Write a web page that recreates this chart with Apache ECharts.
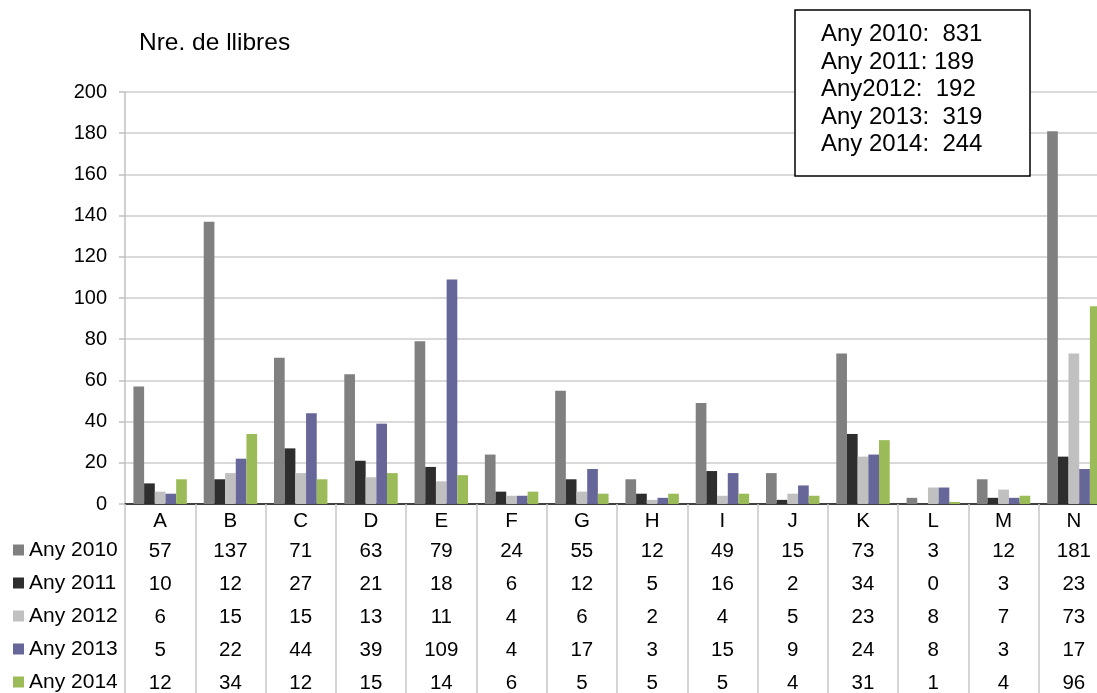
<!DOCTYPE html>
<html>
<head>
<meta charset="utf-8">
<script src="https://cdn.jsdelivr.net/npm/echarts@6/dist/echarts.min.js"></script>
<style>html,body{margin:0;padding:0;background:#fff}#c{width:1097px;height:693px}</style>
</head>
<body>
<div id="c"></div>
<script>
var categories = ['A','B','C','D','E','F','G','H','I','J','K','L','M','N'];
var seriesNames = ['Any 2010','Any 2011','Any 2012','Any 2013','Any 2014'];
var any2010 = [57,137,71,63,79,24,55,12,49,15,73,3,12,181];
var any2011 = [10,12,27,21,18,6,12,5,16,2,34,0,3,23];
var any2012 = [6,15,15,13,11,4,6,2,4,5,23,8,7,73];
var any2013 = [5,22,44,39,109,4,17,3,15,9,24,8,3,17];
var any2014 = [12,34,12,15,14,6,5,5,5,4,31,1,4,96];
var colors = ['#808080','#2e2e2e','#c0c0c0','#666699','#9bbb59'];
var boxLines = ['Any 2010:  831','Any 2011: 189','Any2012:  192','Any 2013:  319','Any 2014:  244'];
var yTicks = {min:0, max:200, interval:20};

var allData = [any2010, any2011, any2012, any2013, any2014];
var FONT = 'Liberation Sans, Arial, sans-serif';

var chart = echarts.init(document.getElementById('c'), null, {renderer:'canvas'});
var series = seriesNames.map(function(n, i){
  return {
    name: n, type: 'bar', data: allData[i],
    itemStyle: {color: colors[i]},
    barGap: '0%', barCategoryGap: '24%'
  };
});

var ROW0 = 539, ROWH = 33;
var legends = seriesNames.map(function(n, i){
  return {
    orient: 'vertical', left: 13, top: ROW0 + i * ROWH, padding: 0,
    icon: 'rect', itemWidth: 11, itemHeight: 11,
    selectedMode: false,
    textStyle: {fontFamily: FONT, fontSize: 21, color: '#000', lineHeight: 22},
    data: [n]
  };
});

chart.setOption({
  animation: false,
  backgroundColor: '#fff',
  textStyle: {fontFamily: FONT},
  title: [
    {text: 'Nre. de llibres', left: 139, top: 28, padding: 0,
     textStyle: {fontFamily: FONT, fontSize: 24.5, fontWeight: 'normal', color: '#000', lineHeight: 30}},
    {text: boxLines.join('\n'), left: 795, top: 10,
     padding: [11, 48, 18, 26],
     borderColor: '#000', borderWidth: 1.5, backgroundColor: '#fff',
     textStyle: {fontFamily: FONT, fontSize: 24, fontWeight: 'normal', color: '#000', lineHeight: 27.5}}
  ],
  legend: legends,
  grid: {left: 125, top: 92, width: 984, height: 412, containLabel: false, outerBoundsMode: 'none'},
  xAxis: {
    type: 'category', data: categories,
    axisLine: {lineStyle: {color: '#404040', width: 2}},
    axisTick: {show: true, interval: 0, length: 190, alignWithLabel: false,
               lineStyle: {color: '#c8c8c8', width: 1.5}},
    axisLabel: {
      interval: 0, margin: 3, color: '#000',
      formatter: function(v, idx){
        var s = '{c|' + v + '}';
        for (var k = 0; k < allData.length; k++) s += '\n{v|' + allData[k][idx] + '}';
        return s;
      },
      rich: {
        c: {fontFamily: FONT, fontSize: 20.5, lineHeight: 28, color: '#000'},
        v: {fontFamily: FONT, fontSize: 20.5, lineHeight: 33, color: '#000'}
      }
    }
  },
  yAxis: {
    type: 'value', min: yTicks.min, max: yTicks.max, interval: yTicks.interval,
    axisLine: {show: true, lineStyle: {color: '#c0c0c0', width: 1.5}},
    axisTick: {show: true, inside: false, length: 6, lineStyle: {color: '#c0c0c0', width: 1.5}},
    axisLabel: {fontFamily: FONT, fontSize: 20, color: '#000', margin: 18},
    splitLine: {lineStyle: {color: '#cccccc', width: 1.5}}
  },
  series: series
});
</script>
</body>
</html>
